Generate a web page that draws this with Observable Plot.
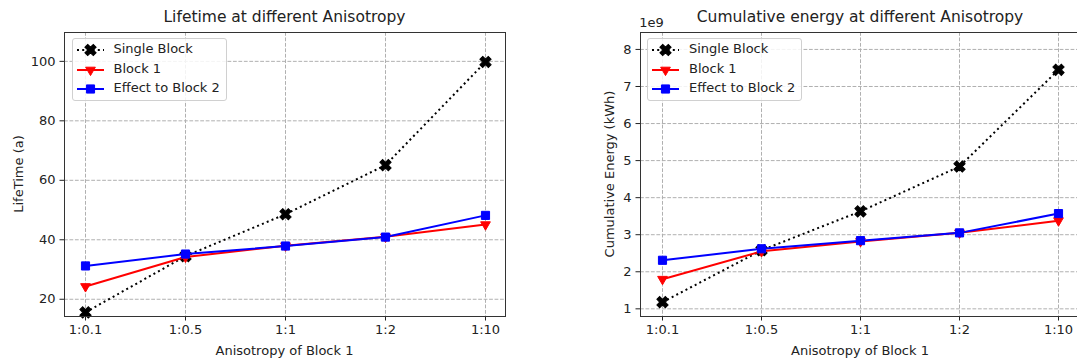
<!DOCTYPE html>
<html>
<head>
<meta charset="utf-8">
<script src="https://cdn.jsdelivr.net/npm/d3@7"></script>
<script src="https://cdn.jsdelivr.net/npm/@observablehq/plot@0.6"></script>
<style>
  html, body { margin: 0; padding: 0; background: #fff; overflow: hidden; }
  #root { position: relative; width: 1077px; height: 359px; overflow: hidden; font-family: "DejaVu Sans", sans-serif; color: #222; }
  .abs { position: absolute; white-space: nowrap; }
  .title { font-size: 15.5px; transform: translate(-50%, -50%); }
  .lab { font-size: 13px; transform: translate(-50%, -50%); }
  .ylab { font-size: 13px; transform: translate(-50%, -50%) rotate(-90deg); }
  .legend { position: absolute; border: 1px solid #d0d0d0; border-radius: 3px; background: rgba(255,255,255,0.85); box-sizing: border-box; }
  .legend .row { position: absolute; left: 0; height: 16px; }
  .legend svg { position: absolute; left: 4px; top: 0; }
  .legend span { position: absolute; left: 41px; top: -1px; font-size: 13px; line-height: 16px; white-space: nowrap; }
</style>
</head>
<body>
<div id="root"></div>
<script>
// ---- data ----
const categories = ["1:0.1", "1:0.5", "1:1", "1:2", "1:10"];
const seriesNames = ["Single Block", "Block 1", "Effect to Block 2"];
const lifeSingle = [15.6, 34.5, 48.6, 65.1, 99.8];
const lifeBlock1 = [24.3, 34.2, 38.0, 41.0, 45.1];
const lifeBlock2 = [31.2, 35.2, 37.9, 40.9, 48.2];
const energySingle = [1.18e9, 2.58e9, 3.63e9, 4.84e9, 7.45e9];
const energyBlock1 = [1.80e9, 2.55e9, 2.82e9, 3.05e9, 3.38e9];
const energyBlock2 = [2.31e9, 2.62e9, 2.84e9, 3.05e9, 3.57e9];
const lifeTicks = [20, 40, 60, 80, 100];
const energyTicks = [1e9, 2e9, 3e9, 4e9, 5e9, 6e9, 7e9, 8e9];

const styles = [
  {stroke: "#000", dash: "2,3.2", symbol: "cross", rotate: 45, r: 5},
  {stroke: "#ff0000", dash: null, symbol: "triangle", rotate: 180, r: 3.6},
  {stroke: "#0000ff", dash: null, symbol: "square", rotate: 0, r: 4.6}
];

function toRows(vals) { return categories.map((c, i) => ({cat: c, v: vals[i]})); }

function makePlot({width, marginLeft, marginRight, yDomain, yTicks, yFormat, series}) {
  const marks = [
    Plot.gridX({stroke: "#b0b0b0", strokeOpacity: 1, strokeWidth: 1, strokeDasharray: "3.8,1.65"}),
    Plot.gridY(yTicks, {stroke: "#b0b0b0", strokeOpacity: 1, strokeWidth: 1, strokeDasharray: "3.8,1.65"}),
    Plot.axisX({tickSize: 4.5, tickPadding: 4, label: null, fontSize: 13}),
    Plot.axisY(yTicks, {tickSize: 4.5, tickPadding: 4.5, label: null, fontSize: 13, tickFormat: yFormat})
  ];
  series.forEach((vals, i) => {
    const s = styles[i];
    const rows = toRows(vals);
    marks.push(Plot.line(rows, {x: "cat", y: "v", stroke: s.stroke, strokeWidth: 2, strokeDasharray: s.dash || undefined, strokeLinecap: "butt"}));
    marks.push(Plot.dot(rows, {x: "cat", y: "v", symbol: s.symbol, rotate: s.rotate, r: s.r, fill: s.stroke, stroke: s.stroke, strokeWidth: 1}));
  });
  marks.push(Plot.frame({stroke: "#333", strokeWidth: 1}));
  return Plot.plot({
    width, height: 359,
    marginTop: 32, marginBottom: 43, marginLeft, marginRight,
    x: {type: "point", domain: categories, padding: 0.2},
    y: {domain: yDomain},
    style: {fontFamily: "DejaVu Sans", fontSize: "13px", color: "#222", background: "transparent", overflow: "visible"},
    marks
  });
}

const root = document.getElementById("root");

const left = makePlot({
  width: 530, marginLeft: 64, marginRight: 25,
  yDomain: [14.2, 109.7], yTicks: lifeTicks, yFormat: d => d,
  series: [lifeSingle, lifeBlock1, lifeBlock2]
});
left.style.position = "absolute"; left.style.left = "0px"; left.style.top = "0px";
root.appendChild(left);

const right = makePlot({
  width: 545, marginLeft: 100, marginRight: 5,
  yDomain: [0.793e9, 8.457e9], yTicks: energyTicks, yFormat: d => d3.format("d")(d / 1e9),
  series: [energySingle, energyBlock1, energyBlock2]
});
right.style.position = "absolute"; right.style.left = "540px"; right.style.top = "0px";
root.appendChild(right);

function addText(cls, text, x, y) {
  const d = document.createElement("div");
  d.className = "abs " + cls;
  d.textContent = text;
  d.style.left = x + "px"; d.style.top = y + "px";
  root.appendChild(d);
}
addText("title", "Lifetime at different Anisotropy", 284.5, 17);
addText("title", "Cumulative energy at different Anisotropy", 860, 17);
addText("lab", "Anisotropy of Block 1", 284.5, 350);
addText("lab", "Anisotropy of Block 1", 860, 350);
addText("ylab", "LifeTime (a)", 17.5, 174);
addText("ylab", "Cumulative Energy (kWh)", 608.5, 174);
addText("lab", "1e9", 651.5, 21.5);

function addLegend(x, y) {
  const box = document.createElement("div");
  box.className = "legend";
  box.style.left = x + "px"; box.style.top = y + "px";
  box.style.width = "155px"; box.style.height = "62.5px";
  const rowsY = [3, 22.5, 42];
  seriesNames.forEach((name, i) => {
    const s = styles[i];
    const row = document.createElement("div");
    row.className = "row";
    row.style.top = rowsY[i] + "px";
    const ns = "http://www.w3.org/2000/svg";
    const svg = document.createElementNS(ns, "svg");
    svg.setAttribute("width", 28); svg.setAttribute("height", 16);
    const ln = document.createElementNS(ns, "line");
    ln.setAttribute("x1", 0); ln.setAttribute("x2", 27); ln.setAttribute("y1", 8); ln.setAttribute("y2", 8);
    ln.setAttribute("stroke", s.stroke); ln.setAttribute("stroke-width", 2);
    if (s.dash) ln.setAttribute("stroke-dasharray", s.dash);
    svg.appendChild(ln);
    const symMap = {cross: d3.symbolCross, triangle: d3.symbolTriangle, square: d3.symbolSquare};
    const p = document.createElementNS(ns, "path");
    p.setAttribute("d", d3.symbol(symMap[s.symbol], Math.PI * s.r * s.r)());
    p.setAttribute("transform", `translate(13.5,8) rotate(${s.rotate})`);
    p.setAttribute("fill", s.stroke); p.setAttribute("stroke", s.stroke);
    svg.appendChild(p);
    row.appendChild(svg);
    const t = document.createElement("span");
    t.textContent = name;
    row.appendChild(t);
    box.appendChild(row);
  });
  root.appendChild(box);
}
addLegend(71.5, 38);
addLegend(647, 38);
</script>
</body>
</html>
